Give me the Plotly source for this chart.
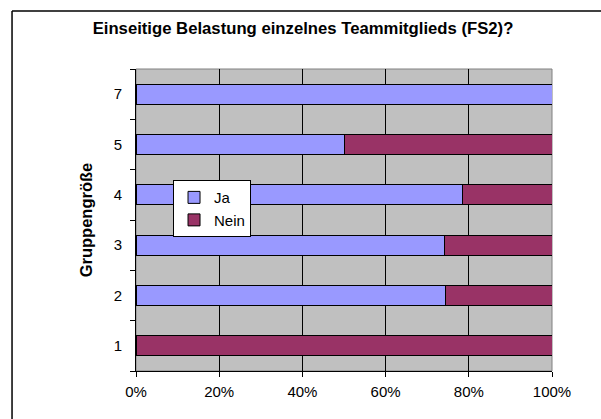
# Balkendiagramm: Einseitige Belastung einzelnes Teammitglieds (FS2)
import plotly.graph_objects as go

# Daten (Anteile)
gruppen = ['1', '2', '3', '4', '5', '7']
ja = [0.0, 0.743, 0.741, 0.786, 0.50, 1.0]
nein = [1.0, 0.257, 0.259, 0.214, 0.50, 0.0]
x_ticks = [0, 0.2, 0.4, 0.6, 0.8, 1.0]

fig = go.Figure()

fig.add_trace(go.Bar(
    y=gruppen, x=ja, name='Ja', orientation='h',
    marker=dict(color='#9999FF', line=dict(color='black', width=1))
))
fig.add_trace(go.Bar(
    y=gruppen, x=nein, name='Nein', orientation='h',
    marker=dict(color='#993366', line=dict(color='black', width=1))
))

fig.update_layout(
    width=601, height=419,
    margin=dict(l=136, r=49, t=69, b=48),
    paper_bgcolor='white',
    plot_bgcolor='#C0C0C0',
    barmode='stack',
    bargap=0.6,
    font=dict(family='Arial, Liberation Sans, sans-serif', size=15, color='black'),
    title=dict(
        text='<b>Einseitige Belastung einzelnes Teammitglieds (FS2)?</b>',
        x=303 / 601, xanchor='center', xref='container',
        y=1 - 28 / 419, yanchor='middle', yref='container',
        font=dict(size=16.7)
    ),
    xaxis=dict(
        range=[0, 1], tickvals=x_ticks, tickformat='.0%',
        showgrid=True, gridcolor='black', gridwidth=1,
        showline=True, linecolor='black', linewidth=1,
        ticks='outside', ticklen=5, tickcolor='black',
        ticklabelstandoff=2, zeroline=False, fixedrange=True
    ),
    yaxis=dict(
        categoryorder='array', categoryarray=gruppen,
        tickson='boundaries', ticks='outside', ticklen=5, tickcolor='black',
        showline=True, linecolor='black', linewidth=1,
        showgrid=False, ticklabelstandoff=10,
        title=dict(text='<b>Gruppengröße</b>', standoff=16, font=dict(size=16.5))
    ),
    legend=dict(
        x=0.089, y=0.632, xanchor='left', yanchor='top',
        bgcolor='white', bordercolor='black', borderwidth=1,
        traceorder='normal', itemwidth=30, font=dict(size=15)
    ),
    shapes=[
        # Rahmen der Zeichnungsfläche
        dict(type='rect', xref='paper', yref='paper', x0=0, x1=1, y0=0, y1=1,
             line=dict(color='#808080', width=1), layer='below'),
        # Diagrammrahmen: nur linke und obere Kante sichtbar (bis zum Bildrand)
        dict(type='line', xref='paper', yref='paper', x0=-0.298, x1=-0.298,
             y0=-0.2, y1=1.192, line=dict(color='black', width=1.5), layer='below'),
        dict(type='line', xref='paper', yref='paper', x0=-0.298, x1=1.2,
             y0=1.192, y1=1.192, line=dict(color='black', width=1.5), layer='below'),
    ]
)

# Browser-Rand entfernen, damit die Figur genau das Fenster füllt
fig.write_html(
    'out.html', config=dict(displayModeBar=False),
    post_script="document.body.style.margin='0';document.body.style.overflow='hidden';"
)
